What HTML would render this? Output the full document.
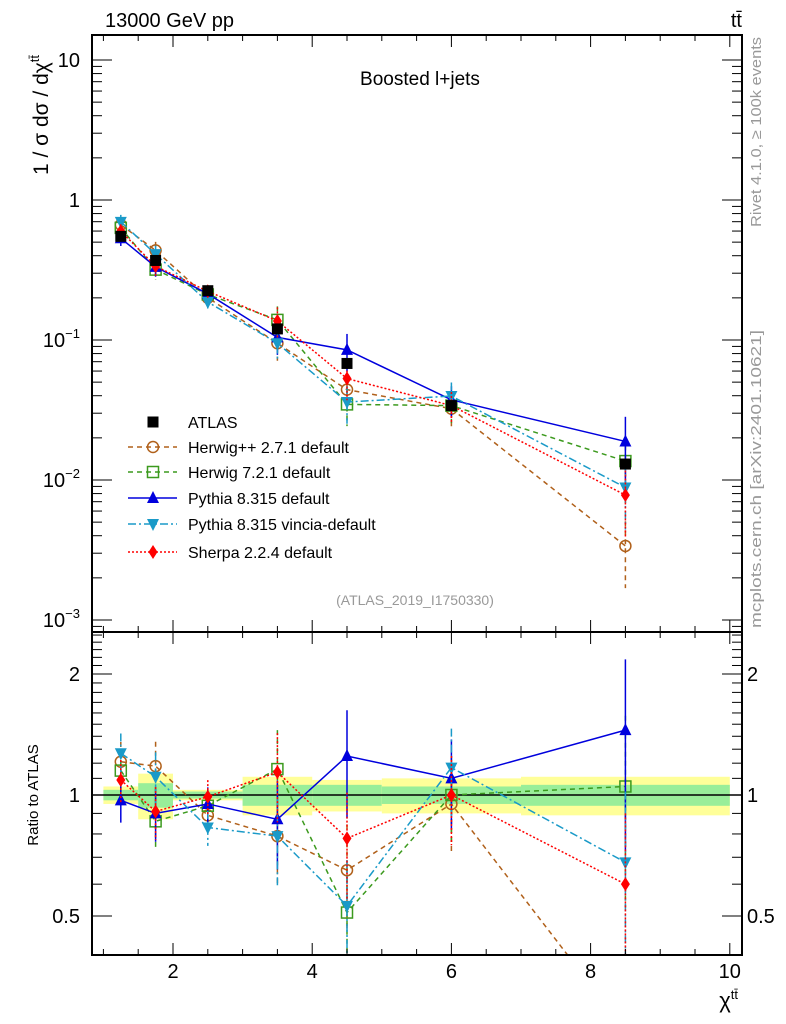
<!DOCTYPE html>
<html><head><meta charset="utf-8"><style>
html,body{margin:0;padding:0;background:#fff;overflow:hidden;}
svg{display:block;font-family:"Liberation Sans",sans-serif;}
</style></head><body>
<svg id="c" width="786" height="1024" viewBox="0 0 786 1024" xmlns="http://www.w3.org/2000/svg">
<g id="bands"></g>
<g id="grid"></g>
<g id="series"></g>
<g id="frames"></g>
<text x="105" y="27" font-size="20">13000 GeV pp</text>
<text x="742" y="27" font-size="20" text-anchor="end">tt̄</text>
<text x="420" y="85" font-size="19" text-anchor="middle">Boosted l+jets</text>
<text x="415" y="605" font-size="14" fill="#999" text-anchor="middle">(ATLAS_2019_I1750330)</text>
<text transform="translate(48,115) rotate(-90)" font-size="21" text-anchor="middle">1 / σ dσ / dχ<tspan font-size="13" dy="-9">tt̄</tspan></text>
<text transform="translate(38,795) rotate(-90)" font-size="15" text-anchor="middle">Ratio to ATLAS</text>
<text x="738" y="1008" font-size="22" text-anchor="end">χ<tspan font-size="13" dy="-9">tt̄</tspan></text>
<text transform="translate(761,132) rotate(-90)" font-size="15" fill="#999" text-anchor="middle" textLength="190" lengthAdjust="spacingAndGlyphs">Rivet 4.1.0, ≥ 100k events</text>
<text transform="translate(761,479) rotate(-90)" font-size="15" fill="#999" text-anchor="middle" textLength="298" lengthAdjust="spacingAndGlyphs">mcplots.cern.ch [arXiv:2401.10621]</text>
<g id="legend"></g>
</svg>
<script>
const xCenters=[1.25,1.75,2.5,3.5,4.5,6,8.5];
const binEdges=[1,1.5,2,3,4,5,7,10];
const atlasVals=[0.55,0.37,0.225,0.12,0.068,0.034,0.013];
const yellowRel=[0.05,0.13,0.03,0.11,0.09,0.10,0.11];
const greenRel=[0.03,0.07,0.02,0.06,0.06,0.05,0.06];
const herwigppRatio=[1.21,1.18,0.89,0.79,0.65,0.95,0.26];
const herwig7Ratio=[1.15,0.86,0.94,1.16,0.51,1.0,1.05];
const pythiaRatio=[0.97,0.90,0.95,0.87,1.25,1.10,1.45];
const vinciaRatio=[1.27,1.11,0.83,0.79,0.53,1.17,0.68];
const sherpaRatio=[1.09,0.91,0.99,1.14,0.78,1.0,0.60];
const mcRelErr=[0.12,0.15,0.1,0.25,0.3,0.25,0.5];
const xTicks=[2,4,6,8,10];
const mainTicks=[10,1,0.1,0.01,0.001];
const ratioTicks=[0.5,1,2];

const NS="http://www.w3.org/2000/svg";
const L=92,R=742,T1=35,B1=632,T2=632,B2=955;
const X=v=>173+(v-2)*69.6;
const Y1=v=>200-140*Math.log10(v);
const Y2=v=>795-121*Math.log2(v);
function mk(tag,attrs,parent){const e=document.createElementNS(NS,tag);for(const k in attrs)e.setAttribute(k,attrs[k]);document.getElementById(parent).appendChild(e);return e;}

for(let i=0;i<7;i++){
  const x0=X(binEdges[i]),x1=X(binEdges[i+1]);
  let e=mk('rect',{x:x0,y:Y2(1+yellowRel[i]),width:x1-x0,height:Y2(1-yellowRel[i])-Y2(1+yellowRel[i]),fill:'#ffff99'},'bands');
  
  
  e=mk('rect',{x:x0,y:Y2(1+greenRel[i]),width:x1-x0,height:Y2(1-greenRel[i])-Y2(1+greenRel[i]),fill:'#99ee99'},'bands');
  
  
}
let ln=mk('line',{x1:L,x2:R,y1:Y2(1),y2:Y2(1),stroke:'#000','stroke-width':1.5},'bands');



const clipTop=mk('clipPath',{id:'cp1'},'series');
const cp1=document.createElementNS(NS,'rect');cp1.setAttribute('x',L);cp1.setAttribute('y',T1);cp1.setAttribute('width',R-L);cp1.setAttribute('height',B1-T1);clipTop.appendChild(cp1);
const clipBot=mk('clipPath',{id:'cp2'},'series');
const cp2=document.createElementNS(NS,'rect');cp2.setAttribute('x',L);cp2.setAttribute('y',T2);cp2.setAttribute('width',R-L);cp2.setAttribute('height',B2-T2);clipBot.appendChild(cp2);

let f=mk('rect',{x:L,y:T1,width:R-L,height:B1-T1,fill:'none',stroke:'#000','stroke-width':2},'frames');

f=mk('rect',{x:L,y:T2,width:R-L,height:B2-T2,fill:'none',stroke:'#000','stroke-width':2},'frames');

function tk(x1,y1,x2,y2){mk('line',{x1,y1,x2,y2,stroke:'#000','stroke-width':1},'frames');}
for(let v=1;v<=10.001;v+=0.5){const x=X(v);if(x<L||x>R)continue;const maj=Math.abs(v-Math.round(v/2)*2)<0.01;const len=maj?12:6;
 tk(x,T1,x,T1+len);tk(x,B1,x,B1-len);tk(x,T2,x,T2+len);tk(x,B2,x,B2-len);}
xTicks.forEach(v=>{const t=mk('text',{x:X(v),y:B2+23,'font-size':20,'text-anchor':'middle'},'frames');t.textContent=v;
 });
for(let d=-4;d<=1;d++)for(let m=1;m<10;m++){const v=m*Math.pow(10,d);const y=Y1(v);if(y<T1||y>B1)continue;const len=m==1?20:10;tk(L,y,L+len,y);tk(R,y,R-len,y);}
mainTicks.forEach(v=>{const y=Y1(v);const t=mk('text',{x:80,y:y+7,'font-size':20,'text-anchor':'end'},'frames');
 const e=Math.round(Math.log10(v));
 if(e>=0)t.textContent=String(v);else{t.textContent='10';const s=document.createElementNS(NS,'tspan');s.setAttribute('font-size',13);s.setAttribute('dy',-9);s.textContent='−'+(-e);t.appendChild(s);}
 });
for(let i=4;i<=25;i++){const v=i/10;const y=Y2(v);if(y<T2+1||y>B2)continue;const maj=(i==5||i==10||i==20);const len=maj?20:10;tk(L,y,L+len,y);tk(R,y,R-len,y);}
ratioTicks.forEach(v=>{const y=Y2(v);[[80,'end'],[747,'start']].forEach(([x,a])=>{const t=mk('text',{x:x,y:y+7,'font-size':20,'text-anchor':a},'frames');t.textContent=v;
 });});

const series=[
 {name:'herwigpp',ratio:herwigppRatio,color:'#b0601a',dash:'5,4',mark:'circle',label:'Herwig++ 2.7.1 default'},
 {name:'herwig7',ratio:herwig7Ratio,color:'#3c9a1e',dash:'5,4',mark:'square',label:'Herwig 7.2.1 default'},
 {name:'pythia',ratio:pythiaRatio,color:'#0000dd',dash:'',mark:'tri',label:'Pythia 8.315 default'},
 {name:'vincia',ratio:vinciaRatio,color:'#1a9ac8',dash:'8,3,2,3',mark:'itri',label:'Pythia 8.315 vincia-default'},
 {name:'sherpa',ratio:sherpaRatio,color:'#ff0000',dash:'2,2',mark:'diamond',label:'Sherpa 2.2.4 default'}
];
function marker(g,type,x,y,c){let e;
 if(type=='circle')e=mk('circle',{cx:x,cy:y,r:5.5,fill:'none',stroke:c,'stroke-width':1.5},g);
 else if(type=='square')e=mk('rect',{x:x-5.5,y:y-5.5,width:11,height:11,fill:'none',stroke:c,'stroke-width':1.5},g);
 else if(type=='tri')e=mk('polygon',{points:`${x},${y-7} ${x-6},${y+5} ${x+6},${y+5}`,fill:c},g);
 else if(type=='itri')e=mk('polygon',{points:`${x},${y+7} ${x-6},${y-5} ${x+6},${y-5}`,fill:c},g);
 else if(type=='diamond')e=mk('polygon',{points:`${x},${y-7} ${x-4.5},${y} ${x},${y+7} ${x+4.5},${y}`,fill:c},g);
 else e=mk('rect',{x:x-5.5,y:y-5.5,width:11,height:11,fill:c},g);
 return e;}
const clampY=(y,top,bot)=>Math.min(bot,Math.max(top,y));
series.forEach(s=>{
 [['top',Y1,i=>atlasVals[i]*s.ratio[i],'cp1',T1,B1],['bot',Y2,i=>s.ratio[i],'cp2',T2,B2]].forEach(([pn,Y,val,cp,top,bot])=>{
  const g=mk('g',{id:s.name+pn,'clip-path':`url(#${cp})`},'series');
  
  
  const pts=xCenters.map((x,i)=>X(x)+','+Y(val(i))).join(' ');
  mk('polyline',{points:pts,fill:'none',stroke:s.color,'stroke-width':1.5,'stroke-dasharray':s.dash},s.name+pn);
  xCenters.forEach((x,i)=>{const v=val(i),e=mcRelErr[i];
   mk('line',{x1:X(x),x2:X(x),y1:clampY(Y(v*(1+e)),top,bot),y2:clampY(Y(Math.max(v*(1-e),1e-5)),top,bot),stroke:s.color,'stroke-width':1.5,'stroke-dasharray':s.dash},s.name+pn);
   const m=marker(s.name+pn,s.mark,X(x),Y(v),s.color);
   
   });
 });
});
const ga=mk('g',{id:'atlasg','clip-path':'url(#cp1)'},'series');


xCenters.forEach((x,i)=>{const m=marker('atlasg','fill',X(x),Y1(atlasVals[i]),'#000');
 
 });

const legY=[422,447,472,498,524,552];
marker('legend','fill',153,legY[0],'#000');
let t0=mk('text',{x:188,y:legY[0]+6,'font-size':16},'legend');t0.textContent='ATLAS';

series.forEach((s,i)=>{const y=legY[i+1];
 mk('line',{x1:128,x2:177,y1:y,y2:y,stroke:s.color,'stroke-width':1.5,'stroke-dasharray':s.dash},'legend');
 marker('legend',s.mark,153,y,s.color);
 const t=mk('text',{x:188,y:y+6,'font-size':16},'legend');t.textContent=s.label;
 
 });
</script>
</body></html>
